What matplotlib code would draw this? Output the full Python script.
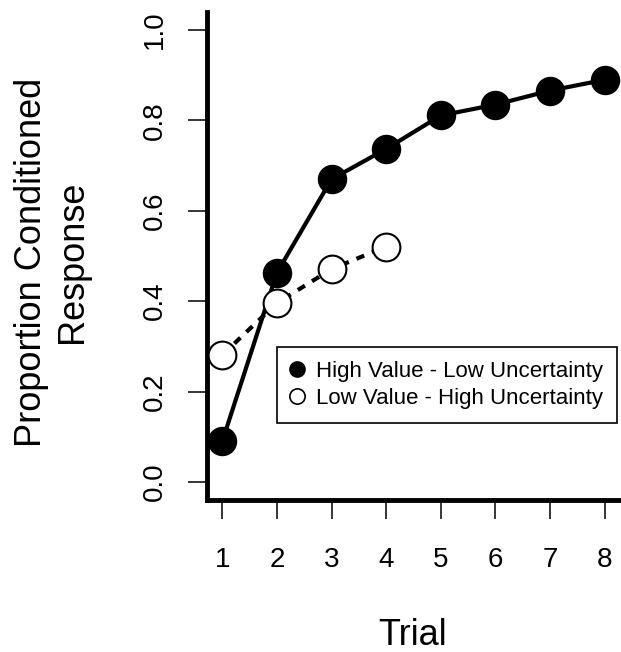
import matplotlib.pyplot as plt
import numpy as np

plt.rcParams['font.family'] = ['Liberation Sans', 'DejaVu Sans']

# Proportion of conditioned responses per trial
trials_high = [1, 2, 3, 4, 5, 6, 7, 8]
prop_high = [0.09, 0.463, 0.67, 0.737, 0.811, 0.835, 0.866, 0.89]
trials_low = [1, 2, 3, 4]
prop_low = [0.281, 0.396, 0.471, 0.521]

label_high = "High Value - Low Uncertainty"
label_low = "Low Value - High Uncertainty"
yticks = [0.0, 0.2, 0.4, 0.6, 0.8, 1.0]

fig = plt.figure(figsize=(6.21, 6.52), dpi=100)
ax = fig.add_axes([207 / 621, 1 - 500 / 652, 413 / 621, 488 / 652])

ax.plot(trials_high, prop_high, color='black', lw=3, marker='o', ms=20,
        mfc='black', mec='black', mew=1.2, label=label_high, zorder=3)
ax.plot(trials_low, prop_low, color='black', lw=3, linestyle=(0, (2, 2)),
        marker='o', ms=20, mfc='white', mec='black', mew=1.5,
        label=label_low, zorder=4)

ax.set_xlim(0.72, 8.28)
ax.set_ylim(-0.04, 1.04)
ax.set_xticks(trials_high)
ax.set_yticks(yticks)
ax.set_yticklabels([f"{v:.1f}" for v in yticks], rotation=90, va='center')

for side in ('top', 'right'):
    ax.spines[side].set_visible(False)
for side in ('left', 'bottom'):
    ax.spines[side].set_linewidth(3.5)
    ax.spines[side].set_capstyle('projecting')

ax.tick_params(axis='x', length=14, width=1.1, pad=20, labelsize=20)
ax.tick_params(axis='y', length=14, width=1.1, pad=14, labelsize=20)

# legend handles use smaller markers than the plotted points
h1, = ax.plot([], [], 'o', color='black', ms=11)
h2, = ax.plot([], [], 'o', mfc='white', mec='black', mew=1.2, ms=11)
leg = ax.legend([h1, h2], [label_high, label_low], loc='upper left',
                bbox_to_anchor=(277 / 621, 1 - 347 / 652),
                bbox_transform=fig.transFigure, fontsize=16,
                frameon=True, fancybox=False, framealpha=1,
                edgecolor='black', borderpad=0.62, labelspacing=0.28,
                handlelength=0.55, handletextpad=0.6, borderaxespad=0)
leg.get_frame().set_linewidth(1.2)

fig.text(52 / 621, 1 - 262 / 652, "Proportion Conditioned\nResponse",
         rotation=90, ha='center', va='center', fontsize=26,
         linespacing=1.25)
fig.text(413 / 621, 1 - 645 / 652, "Trial", ha='center', va='baseline',
         fontsize=26)

fig.savefig('out.png', dpi=100)
